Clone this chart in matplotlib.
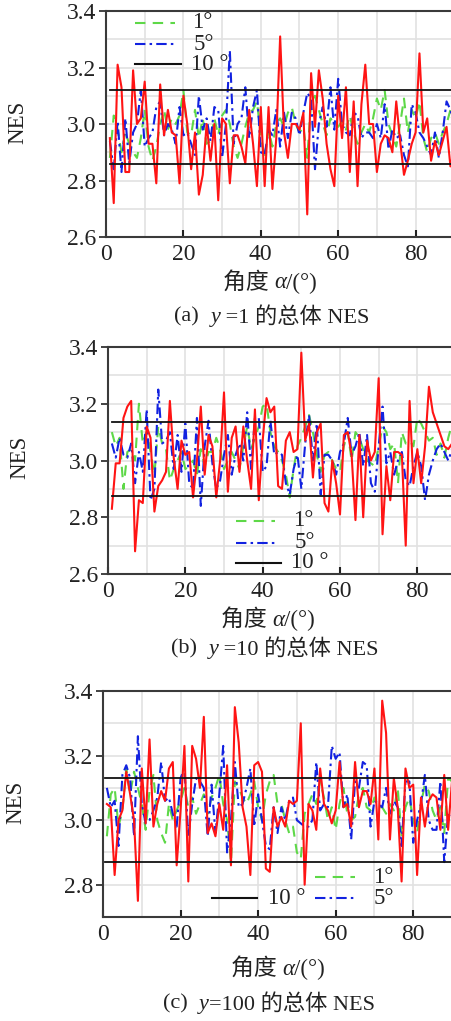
import numpy as np
import matplotlib
matplotlib.use("Agg")
import matplotlib.pyplot as plt
from matplotlib.lines import Line2D

plt.rcParams['font.family'] = ['Liberation Serif', 'Noto Sans CJK SC']

# ---------------- data ----------------
angles = list(range(1, 91))

a_red = [2.95, 2.72, 3.21, 3.13, 2.83, 2.83, 3.19, 3.00, 3.02, 3.15,
         2.93, 2.93, 2.79, 3.14, 2.96, 3.05, 2.97, 2.96, 2.79, 3.10,
         3.00, 2.84, 2.97, 2.75, 2.82, 3.00, 2.87, 3.00, 2.73, 3.02,
         3.00, 2.79, 2.96, 2.96, 2.92, 2.86, 3.05, 2.93, 2.78, 3.06,
         2.78, 3.06, 2.77, 2.95, 3.31, 2.97, 2.88, 3.00, 3.00, 2.98,
         3.04, 2.68, 3.18, 2.99, 3.19, 3.09, 2.93, 2.84, 2.78, 3.10,
         2.95, 3.13, 2.83, 3.08, 2.78, 3.07, 3.21, 3.00, 3.00, 2.83,
         2.93, 2.96, 2.95, 2.90, 3.08, 2.94, 2.82, 2.87, 2.93, 2.97,
         3.25, 2.97, 3.02, 2.87, 2.94, 2.89, 2.94, 2.99, 2.85, 2.91]
a_blue = [2.94, 2.84, 3.01, 2.83, 3.02, 2.86, 2.97, 3.00, 3.12, 2.92,
          2.95, 2.97, 3.06, 3.08, 2.96, 3.00, 2.98, 2.93, 3.06, 2.96,
          2.97, 2.93, 2.89, 3.10, 2.98, 3.02, 2.94, 3.06, 3.05, 2.88,
          3.00, 3.26, 2.93, 3.00, 3.02, 3.13, 2.95, 3.06, 3.12, 2.90,
          2.89, 2.98, 2.96, 3.05, 2.92, 3.04, 2.95, 3.04, 3.02, 2.96,
          3.04, 3.11, 3.09, 2.84, 3.00, 3.06, 2.99, 3.13, 2.98, 3.16,
          3.00, 2.97, 2.96, 3.04, 3.03, 2.95, 2.97, 2.97, 2.95, 3.00,
          2.95, 3.07, 2.91, 2.98, 2.95, 2.96, 2.89, 2.85, 3.07, 3.04,
          2.97, 2.95, 2.92, 2.89, 2.97, 2.88, 2.97, 3.08, 3.05, 3.00]
a_green = [2.88, 3.03, 2.98, 2.90, 2.97, 2.93, 2.90, 2.88, 2.95, 3.05,
           2.92, 2.87, 2.92, 3.00, 3.05, 2.98, 3.02, 3.00, 3.03, 3.12,
           2.97, 2.96, 3.05, 2.95, 3.02, 2.93, 2.94, 3.02, 2.96, 3.03,
           3.05, 3.00, 2.92, 2.88, 2.93, 2.99, 3.04, 3.05, 3.08, 2.96,
           2.88, 2.98, 2.92, 3.00, 3.02, 2.99, 3.04, 3.06, 3.00, 2.97,
           2.99, 2.88, 3.08, 3.10, 3.05, 3.00, 2.96, 3.02, 3.00, 2.99,
           3.01, 2.98, 3.03, 2.97, 2.93, 2.97, 3.00, 2.97, 3.02, 3.09,
           3.05, 3.12, 3.00, 2.96, 2.92, 3.00, 3.09, 2.97, 3.05, 3.02,
           3.08, 2.95, 2.90, 2.95, 2.97, 2.93, 2.97, 3.00, 3.05, 2.98]

b_red = [2.83, 2.99, 2.99, 3.15, 3.19, 3.21, 2.68, 2.86, 2.85, 3.12,
         3.08, 2.82, 2.91, 2.93, 2.96, 3.21, 3.01, 2.90, 3.07, 3.02,
         3.03, 2.87, 3.00, 3.19, 2.95, 3.09, 3.05, 2.87, 3.00, 3.24,
         2.89, 3.08, 3.12, 2.96, 3.12, 3.00, 2.90, 3.18, 2.86, 3.07,
         3.22, 3.17, 3.19, 2.91, 2.90, 3.07, 3.10, 3.03, 3.04, 3.38,
         3.07, 3.13, 2.94, 3.10, 3.13, 2.85, 2.82, 3.00, 2.92, 2.81,
         3.09, 3.10, 3.02, 2.79, 3.09, 2.80, 3.07, 3.00, 3.03, 3.29,
         2.74, 2.98, 2.86, 3.03, 3.03, 3.02, 2.70, 3.21, 2.92, 3.04,
         2.92, 3.05, 3.26, 3.17, 3.13, 3.09, 3.05, 3.04, 3.06, 3.07]
b_blue = [3.06, 3.01, 3.08, 3.02, 3.01, 3.06, 2.92, 3.03, 2.96, 3.18,
          2.86, 2.90, 3.25, 3.06, 3.07, 3.10, 2.97, 3.09, 2.96, 3.13,
          2.92, 2.90, 3.15, 2.84, 3.05, 3.14, 2.99, 2.90, 2.93, 3.02,
          3.09, 2.95, 3.02, 3.06, 3.00, 3.17, 2.97, 3.15, 3.15, 2.96,
          2.98, 3.14, 3.02, 3.03, 3.02, 2.92, 2.88, 2.97, 3.02, 2.90,
          3.06, 3.16, 3.00, 3.13, 2.88, 3.02, 3.02, 3.00, 2.95, 3.03,
          3.06, 3.15, 3.02, 3.05, 3.10, 2.98, 3.09, 2.92, 2.89, 3.05,
          3.19, 2.99, 3.03, 2.95, 3.00, 3.03, 2.93, 2.91, 2.98, 3.03,
          2.98, 2.86, 2.95, 3.00, 3.04, 3.06, 3.03, 3.00, 3.04, 3.05]
b_green = [3.10, 3.05, 3.08, 2.90, 3.03, 3.04, 3.00, 3.20, 3.06, 3.10,
           3.03, 2.95, 3.12, 3.06, 3.04, 2.93, 2.97, 3.00, 3.03, 2.97,
           2.98, 3.00, 2.95, 3.04, 2.98, 3.03, 3.03, 3.08, 3.04, 2.97,
           3.00, 3.03, 3.00, 2.97, 3.05, 3.12, 3.04, 3.08, 3.12, 3.19,
           3.20, 3.10, 3.05, 3.03, 3.00, 2.95, 2.87, 2.97, 3.05, 3.08,
           3.12, 3.16, 3.10, 3.02, 2.96, 3.02, 3.03, 3.00, 2.97, 2.96,
           3.05, 3.10, 3.00, 3.10, 3.08, 3.04, 3.00, 2.99, 2.98, 3.05,
           3.12, 3.10, 3.04, 3.06, 2.92, 3.10, 3.06, 3.07, 3.05, 3.15,
           3.13, 3.10, 3.07, 3.08, 3.02, 3.06, 3.01, 3.08, 3.13, 3.12]

c_red = [3.05, 3.04, 2.83, 3.00, 3.03, 3.15, 3.08, 3.00, 2.75, 3.16,
         2.99, 3.25, 2.98, 3.05, 3.09, 3.06, 3.16, 3.18, 2.86, 3.03,
         3.23, 2.81, 3.23, 3.19, 3.10, 3.32, 2.96, 2.99, 2.95, 3.05,
         2.97, 3.17, 2.86, 3.35, 3.24, 3.04, 2.98, 2.83, 3.17, 3.18,
         3.15, 2.85, 2.84, 3.04, 2.98, 3.01, 2.98, 3.06, 3.05, 3.06,
         3.30, 2.80, 3.05, 3.03, 2.97, 3.16, 3.05, 3.03, 2.99, 3.03,
         3.18, 3.04, 3.05, 2.98, 3.18, 3.04, 3.09, 3.09, 3.05, 3.16,
         2.94, 3.37, 3.27, 2.94, 3.13, 3.04, 2.81, 3.16, 3.10, 3.11,
         2.83, 3.07, 2.98, 3.06, 3.08, 3.07, 2.97, 3.14, 2.97, 3.12]
c_blue = [3.10, 3.04, 3.06, 2.92, 3.14, 3.17, 3.13, 2.95, 3.26, 3.05,
          2.99, 3.00, 3.03, 3.07, 3.18, 3.06, 3.07, 3.02, 2.98, 3.13,
          3.16, 2.95, 3.05, 3.13, 3.12, 3.10, 2.95, 3.11, 2.96, 3.08,
          3.23, 2.90, 3.00, 3.18, 3.04, 3.05, 3.10, 3.16, 2.98, 3.08,
          3.00, 2.92, 2.91, 3.04, 2.96, 3.04, 3.00, 3.06, 3.07, 3.00,
          2.99, 2.98, 2.98, 3.00, 3.18, 3.03, 3.05, 3.04, 3.23, 3.19,
          3.21, 3.04, 3.08, 2.94, 3.12, 3.10, 3.18, 3.17, 2.98, 3.06,
          3.05, 3.04, 3.10, 3.02, 3.06, 3.04, 2.92, 3.12, 3.12, 2.93,
          3.00, 3.05, 3.14, 3.00, 2.97, 2.97, 3.12, 2.87, 3.02, 3.00]
c_green = [2.95, 3.08, 3.10, 2.98, 3.03, 3.16, 3.08, 3.15, 3.10, 3.05,
           2.97, 3.09, 3.14, 3.00, 2.96, 2.93, 3.05, 3.00, 3.03, 3.06,
           3.10, 3.04, 3.07, 3.02, 3.05, 3.08, 3.02, 3.07, 3.10, 3.14,
           3.05, 3.00, 2.87, 3.12, 3.10, 3.07, 3.05, 3.08, 3.12, 3.04,
           3.00, 3.08, 3.12, 3.14, 3.05, 3.05, 3.00, 2.96, 2.98, 2.90,
           2.88, 3.02, 3.05, 3.08, 3.05, 3.12, 3.07, 3.00, 3.04, 2.97,
           3.05, 3.10, 3.02, 3.00, 3.01, 3.08, 3.10, 3.04, 3.03, 3.07,
           3.04, 3.04, 3.02, 3.05, 3.03, 3.10, 2.95, 3.04, 3.07, 3.00,
           2.96, 3.05, 3.11, 3.09, 3.03, 3.00, 3.04, 2.96, 3.13, 3.12]

a_bounds = [3.12, 2.86]
b_bounds = [3.135, 2.875]
c_bounds = [3.13, 2.87]

captions = [
    [("(a)  ", "normal"), ("y", "italic"), (" =1 的总体 NES", "normal")],
    [("(b)  ", "normal"), ("y", "italic"), (" =10 的总体 NES", "normal")],
    [("(c)  ", "normal"), ("y", "italic"), ("=100 的总体 NES", "normal")],
]
xlabel_pieces = [("角度 ", "normal"), ("α", "italic"), ("/(°)", "normal")]
ylabel_text = "NES"
legend_labels = ["1°", "5°", "10 °"]

# ---------------- style ----------------
W, H = 452, 1021
fig = plt.figure(figsize=(W / 100, H / 100), dpi=100)
renderer = fig.canvas.get_renderer()

GREEN = "#5ed848"
BLUE = "#1222e0"
RED = "#ff1414"
FS = 17
LFS = 16.5
TXT = '#222222'


def fx(px):
    return px / W


def fy(py):
    return 1 - py / H


def rich_text(xc, y, pieces, fs):
    objs = []
    widths = []
    for s, st in pieces:
        t = fig.text(0, fy(y), s, fontsize=fs, style=st, ha='left', va='center', color=TXT)
        objs.append(t)
        widths.append(t.get_window_extent(renderer).width)
    total = sum(widths)
    x = xc - total / 2
    for t, w in zip(objs, widths):
        t.set_x(fx(x))
        x += w


def make_axes(left, top, bottom, right_px, xlim, ylim, yticks):
    ax = fig.add_axes([fx(left), fy(bottom), fx(right_px - left), (bottom - top) / H])
    ax.set_xlim(*xlim)
    ax.set_ylim(*ylim)
    ax.set_xticks([0, 20, 40, 60, 80])
    ax.set_yticks(yticks)
    ax.set_yticklabels([f"{v:.1f}" for v in yticks])
    ax.set_xticks(np.arange(0, 91, 10), minor=True)
    ax.set_yticks(np.arange(ylim[0], ylim[1] + 0.001, 0.1), minor=True)
    ax.grid(which='both', color='#e2e2e2', linewidth=1.2, zorder=0)
    ax.set_axisbelow(True)
    for s in ['left', 'bottom', 'top']:
        ax.spines[s].set_color('#3a3a3a')
        ax.spines[s].set_linewidth(1.5)
    ax.spines['right'].set_visible(False)
    ax.tick_params(axis='y', which='major', direction='out', length=5, width=1.2,
                   labelsize=FS, pad=2, colors=TXT)
    ax.tick_params(axis='x', which='major', direction='in', length=5, width=1.5,
                   labelsize=FS, pad=5, colors=TXT)
    ax.tick_params(which='minor', length=0)
    return ax


def draw(ax, green, blue, red, bounds, bx0):
    x = np.array(angles)
    ax.plot(x, green, color=GREEN, lw=1.5, linestyle=(0, (5, 3.5)), zorder=3)
    ax.plot(x, blue, color=BLUE, lw=1.5, linestyle=(0, (5, 2, 1.2, 2)), zorder=4)
    ax.plot(x, red, color=RED, lw=1.5, zorder=5)
    for b in bounds:
        ax.plot([bx0, 90], [b, b], color='#111111', lw=1.3, zorder=6)


def legend_entry(x0, x1, y, label_x, label, kind):
    if kind == 'g':
        kw = dict(color=GREEN, lw=1.5, linestyle=(0, (5, 3.5)))
    elif kind == 'b':
        kw = dict(color=BLUE, lw=1.5, linestyle=(0, (5, 2, 1.2, 2)))
    else:
        kw = dict(color='#111111', lw=1.5)
    fig.add_artist(Line2D([fx(x0), fx(x1)], [fy(y), fy(y)], transform=fig.transFigure, **kw))
    fig.text(fx(label_x), fy(y), label, fontsize=LFS, ha='left', va='center', color=TXT)


# Panel (a)
ax1 = make_axes(106, 11, 237, 454.3, (0, 90), (2.6, 3.4), [2.6, 2.8, 3.0, 3.2, 3.4])
draw(ax1, a_green, a_blue, a_red, a_bounds, 1)
legend_entry(135, 175, 23, 192, legend_labels[0], 'g')
legend_entry(135, 175, 44, 194, legend_labels[1], 'b')
legend_entry(135, 181, 64, 191, legend_labels[2], 'k')
fig.text(fx(18), fy(122), ylabel_text, rotation=90, fontsize=LFS, ha='center', va='center', color=TXT)
rich_text(270, 283, xlabel_pieces, LFS)
rich_text(272, 317, captions[0], LFS - 0.5)

# Panel (b)
ax2 = make_axes(108, 347, 574, 456, (0, 90), (2.6, 3.4), [2.6, 2.8, 3.0, 3.2, 3.4])
draw(ax2, b_green, b_blue, b_red, b_bounds, 1)
legend_entry(236, 275, 521, 293, legend_labels[0], 'g')
legend_entry(236, 275, 543, 295, legend_labels[1], 'b')
legend_entry(236, 281, 563, 291, legend_labels[2], 'k')
fig.text(fx(20), fy(457), ylabel_text, rotation=90, fontsize=LFS, ha='center', va='center', color=TXT)
rich_text(268, 620, xlabel_pieces, LFS)
rich_text(275, 649, captions[1], LFS - 0.5)

# Panel (c)
ax3 = make_axes(103, 691, 917, 452, (0, 90), (2.7, 3.4), [2.8, 3.0, 3.2, 3.4])
draw(ax3, c_green, c_blue, c_red, c_bounds, 0.5)
legend_entry(315, 355, 877, 373, legend_labels[0], 'g')
legend_entry(212, 257, 898, 268, legend_labels[2], 'k')
legend_entry(315, 355, 898, 374, legend_labels[1], 'b')
fig.text(fx(16), fy(802), ylabel_text, rotation=90, fontsize=LFS, ha='center', va='center', color=TXT)
rich_text(278, 969, xlabel_pieces, LFS)
rich_text(269, 1004, captions[2], LFS - 0.5)

fig.savefig("out.png", dpi=100)
